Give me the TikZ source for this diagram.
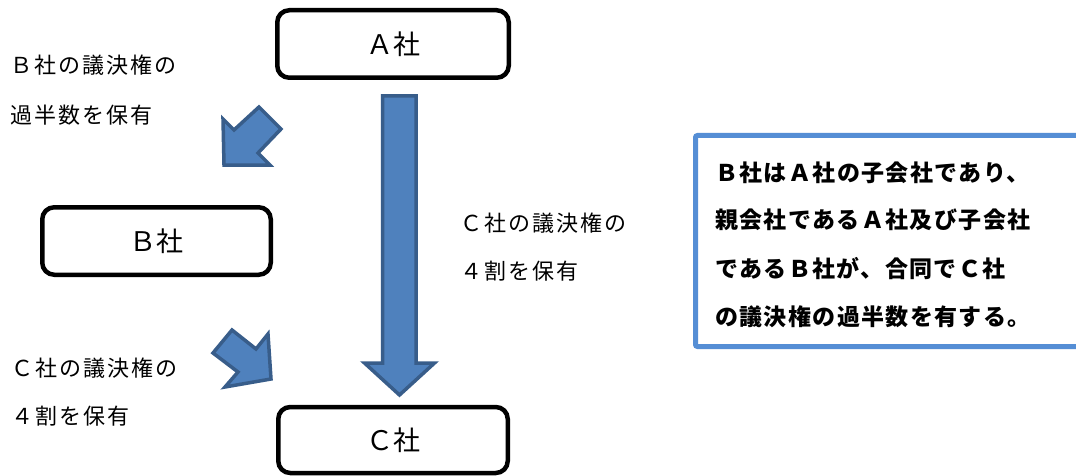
\documentclass[tikz,border=0pt]{standalone}
\usepackage{fontspec}
\newfontfamily\jp[LetterSpace=9]{Noto Sans CJK JP}
\newfontfamily\jpr[LetterSpace=6]{Noto Sans CJK JP}
\newfontfamily\jpbox{Noto Sans CJK JP}
\definecolor{arrowfill}{HTML}{4F81BD}
\definecolor{arrowline}{HTML}{385D8A}
\definecolor{notecol}{HTML}{558ED5}
\begin{document}
\begin{tikzpicture}[x=1pt,y=-1pt,
  firm/.style={draw=black,line width=4.5pt,rounded corners=12pt,inner sep=0pt,
    font=\jpbox\fontsize{27}{31}\selectfont},
  lbl/.style={anchor=west,inner sep=0pt,font=\jp\fontsize{22}{26}\selectfont},
  notetext/.style={anchor=west,inner sep=0pt,font=\jpr\bfseries\fontsize{23}{27}\selectfont},
  blk/.style={fill=arrowfill,draw=arrowline,line width=3.5pt,line join=miter}]
\useasboundingbox (0,0) rectangle (1076,476);
\clip (0,0) rectangle (1076,476);
\fill[white] (0,0) rectangle (1076,476);

% boxes
\node[firm,minimum width=231.5pt,minimum height=67.5pt] (A) at (393,44) {Ａ社};
\node[firm,minimum width=228.5pt,minimum height=67.5pt] (B) at (156.5,241) {Ｂ社};
\node[firm,minimum width=229.5pt,minimum height=66pt] (C) at (393,440) {Ｃ社};

% main block arrow A -> C
\draw[blk] (382.5,96) -- (416,96) -- (416,363) -- (434.5,363) -- (399.5,395)
  -- (364.5,363) -- (382.5,363) -- cycle;

% small block arrow toward B
\draw[blk] (224,165) -- (223,119) -- (234,130) -- (259,107) -- (281,129)
  -- (258,153) -- (270,165) -- cycle;

% small block arrow toward C
\draw[blk] (271,379) -- (268,334) -- (256,349) -- (232,330) -- (213,353)
  -- (238,372) -- (225,387) -- cycle;

% labels
\node[lbl] (l1) at (10,65) {Ｂ社の議決権の};
\node[lbl] (l2) at (10,115) {過半数を保有};
\node[lbl] (m1) at (460,223) {Ｃ社の議決権の};
\node[lbl] (m2) at (460,271) {４割を保有};
\node[lbl] (b1) at (11,368) {Ｃ社の議決権の};
\node[lbl] (b2) at (11,416) {４割を保有};

% note box
\draw[draw=notecol,line width=5pt,rounded corners=2pt] (695.5,135.5) rectangle (1110,346.5);
\node[notetext] (n1) at (715,172.5) {Ｂ社はＡ社の子会社であり、};
\node[notetext] (n2) at (715,220) {親会社であるＡ社及び子会社};
\node[notetext] (n3) at (715,268.5) {であるＢ社が、合同でＣ社};
\node[notetext] (n4) at (715,316.5) {の議決権の過半数を有する。};
\end{tikzpicture}
\end{document}
